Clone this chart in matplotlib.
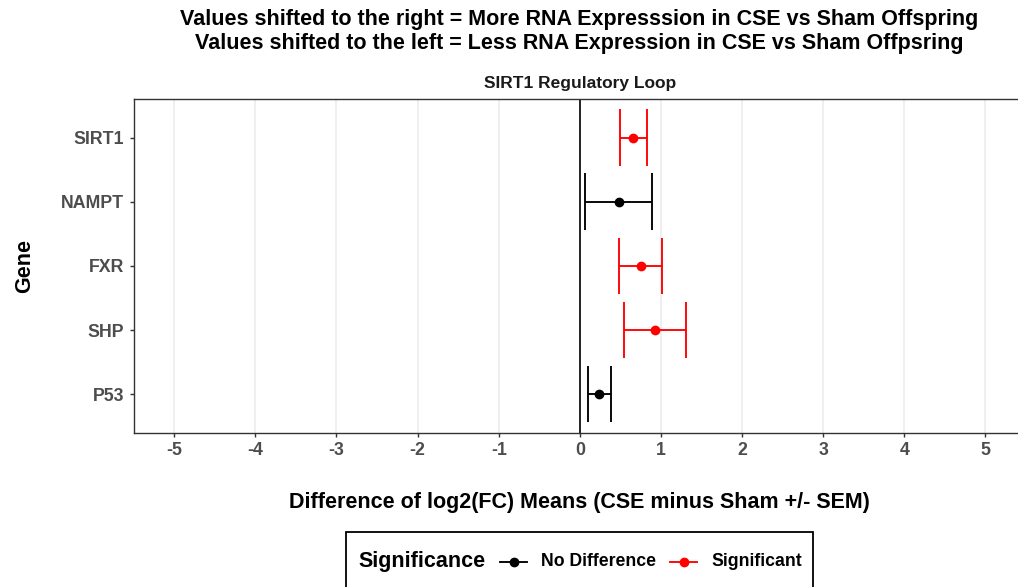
import matplotlib
matplotlib.use('Agg')
import matplotlib.pyplot as plt
from matplotlib.lines import Line2D
from matplotlib.patches import Rectangle

plt.rcParams['font.family'] = ['Liberation Sans', 'DejaVu Sans']

genes = ['SIRT1', 'NAMPT', 'FXR', 'SHP', 'P53']
means = [0.66, 0.48, 0.75, 0.93, 0.24]
sems = [0.17, 0.41, 0.265, 0.38, 0.14]
significance = ['Significant', 'No Difference', 'Significant', 'Significant', 'No Difference']
sig_colors = {'No Difference': 'black', 'Significant': 'red'}
x_ticks = [-5, -4, -3, -2, -1, 0, 1, 2, 3, 4, 5]

W, H = 1018, 587
fig = plt.figure(figsize=(W / 100, H / 100), dpi=100)
# panel runs past the right edge of the image, as in the original
ax = fig.add_axes([133.7 / W, (H - 432.7) / H, (1025.9 - 133.7) / W, (432.7 - 99) / H])

ypos = list(range(len(genes) - 1, -1, -1))
for y, m, s, sig in zip(ypos, means, sems, significance):
    c = sig_colors[sig]
    ax.hlines(y, m - s, m + s, color=c, lw=1.35, zorder=3)
    ax.vlines([m - s, m + s], y - 0.44, y + 0.44, color=c, lw=1.35, zorder=3)
    ax.plot(m, y, 'o', color=c, ms=6, zorder=4)

ax.axvline(0, color='black', lw=1.2, zorder=2)

ax.set_xlim(-5.5, 5.5)
ax.set_ylim(-0.6, len(genes) - 0.4)
ax.set_xticks(x_ticks)
ax.set_xticklabels([str(t) for t in x_ticks])
ax.set_yticks(ypos)
ax.set_yticklabels(genes)
ax.grid(axis='x', color='#EBEBEB', lw=1.1, zorder=0)
ax.set_axisbelow(True)
for sp in ax.spines.values():
    sp.set_color('#333333')
    sp.set_linewidth(1.0)
ax.tick_params(length=3.2, width=1.0, color='#333333', labelcolor='#4D4D4D',
               labelsize=12.8)
for lab in ax.get_xticklabels() + ax.get_yticklabels():
    lab.set_fontweight('bold')

ax.set_xlabel('Difference of log2(FC) Means (CSE minus Sham +/- SEM)',
              fontsize=15.5, fontweight='bold', labelpad=24)
ax.set_ylabel('Gene', fontsize=15.5, fontweight='bold', labelpad=19)
ax.set_title('SIRT1 Regulatory Loop', fontsize=12.5, fontweight='bold',
             color='#1A1A1A', pad=8)

fig.text(579 / W, 1 - 31.5 / H,
         'Values shifted to the right = More RNA Expresssion in CSE vs Sham Offspring\n'
         'Values shifted to the left = Less RNA Expression in CSE vs Sham Offpsring',
         ha='center', va='center', fontsize=15.5, fontweight='bold', linespacing=1.25)

# legend box along the bottom with the title inline
fig.add_artist(Rectangle((346 / W, -0.05), (813 - 346) / W, (H - 532) / H + 0.05,
                         transform=fig.transFigure, fill=False, ec='black', lw=1.3))
ly = 1 - 562 / H
fig.text(358 / W, ly, 'Significance', fontsize=15.5, fontweight='bold', va='center')
for x0, sig in [(500, 'No Difference'), (670, 'Significant')]:
    c = sig_colors[sig]
    fig.add_artist(Line2D([x0 / W, (x0 + 27) / W], [ly, ly], color=c, lw=1.35,
                          transform=fig.transFigure))
    fig.add_artist(Line2D([(x0 + 13.5) / W], [ly], marker='o', ms=6, color=c,
                          transform=fig.transFigure))
    fig.text((x0 + 41) / W, ly, sig, fontsize=12.7, fontweight='bold', va='center')

fig.savefig('out.png', dpi=100)
